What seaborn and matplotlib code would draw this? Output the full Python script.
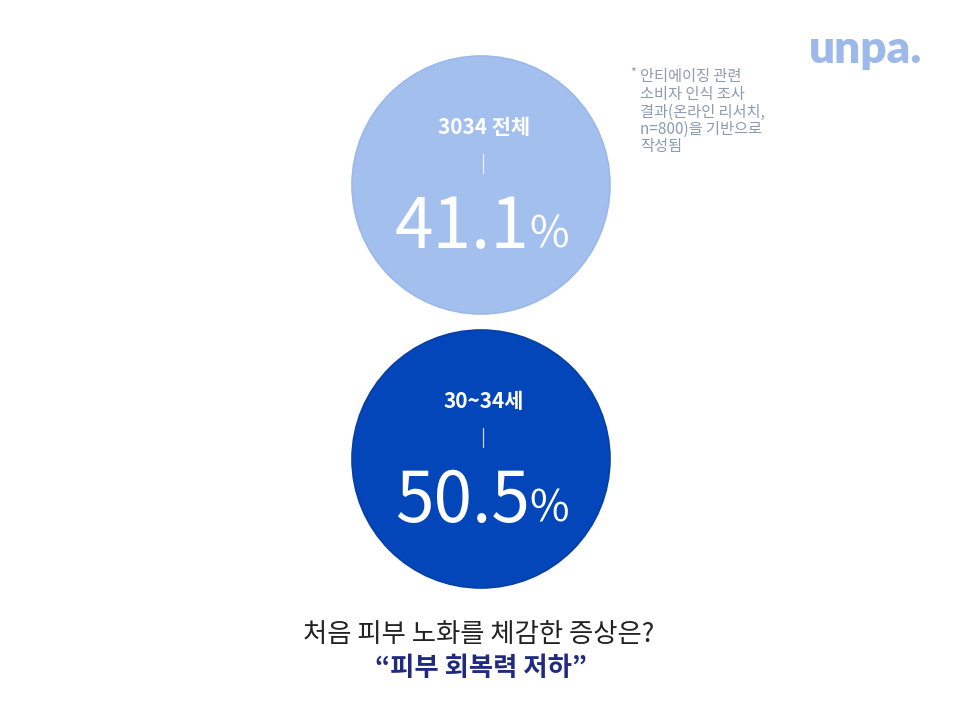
import matplotlib
matplotlib.use('Agg')
import matplotlib.pyplot as plt
import seaborn as sns
import pandas as pd

groups = ['3034 전체', '30~34세']
values = [41.1, 50.5]
colors = ['#a3bfee', '#0246b9']
edges = ['#9ab8ec', '#063fa6']

question = '처음 피부 노화를 체감한 증상은?'
answer = '“피부 회복력 저하”'
note_lines = ['안티에이징 관련', '소비자 인식 조사', '결과(온라인 리서치,', 'n=800)을 기반으로', '작성됨']
brand = 'unpa.'

sns.set_theme(style='white')
plt.rcParams['font.family'] = ['Noto Sans CJK KR', 'DejaVu Sans']

fig = plt.figure(figsize=(9.6, 7.2), dpi=100)
ax = fig.add_axes([0, 0, 1, 1])
ax.set_xlim(0, 960)
ax.set_ylim(720, 0)
ax.axis('off')

df = pd.DataFrame({'group': groups, 'value': values})
df['x'] = 481
df['y'] = 185 + df.index * 274

# circle diameter of ~258 px expressed in points
diam_pt = 258 * 72 / 100
sns.scatterplot(data=df, x='x', y='y', hue='group', palette=dict(zip(groups, colors)),
                s=diam_pt ** 2, legend=False, ax=ax, linewidth=0)
for i, row in df.iterrows():
    ax.scatter(row['x'], row['y'], s=diam_pt ** 2, facecolor='none',
               edgecolor=edges[i], linewidth=1.2, zorder=3)
    ax.text(row['x'] + 3, row['y'] - 57, row['group'], color='white', fontsize=15,
            fontweight='bold', ha='center', va='center', zorder=4)
    ax.plot([row['x'] + 2, row['x'] + 2], [row['y'] - 31, row['y'] - 12],
            color='white', alpha=0.8, linewidth=0.9, zorder=4)
    num = f"{row['value']:.1f}"
    ax.text(row['x'] + 49, row['y'] + 63, num, color='white', fontsize=50,
            fontweight='light', ha='right', va='baseline', zorder=4)
    ax.text(row['x'] + 48, row['y'] + 63, '%', color='white', fontsize=31,
            fontweight='light', ha='left', va='baseline', zorder=4)

ax.text(479, 635, question, color='#222222', fontsize=19, ha='center', va='center')
ax.text(481, 668, answer, color='#1f2a80', fontsize=19, fontweight='bold',
        ha='center', va='center')

ax.text(630, 73, '*', color='#8c9bb0', fontsize=9, ha='left', va='center')
for k, line in enumerate(note_lines):
    ax.text(640, 77 + k * 17.5, line, color='#8c9bb0', fontsize=11,
            ha='left', va='center')
ax.text(866, 50, brand, color='#9db8ea', fontsize=33, fontweight='heavy',
        family=['Lato', 'DejaVu Sans'], ha='center', va='center')

fig.savefig('out.png', dpi=100)
